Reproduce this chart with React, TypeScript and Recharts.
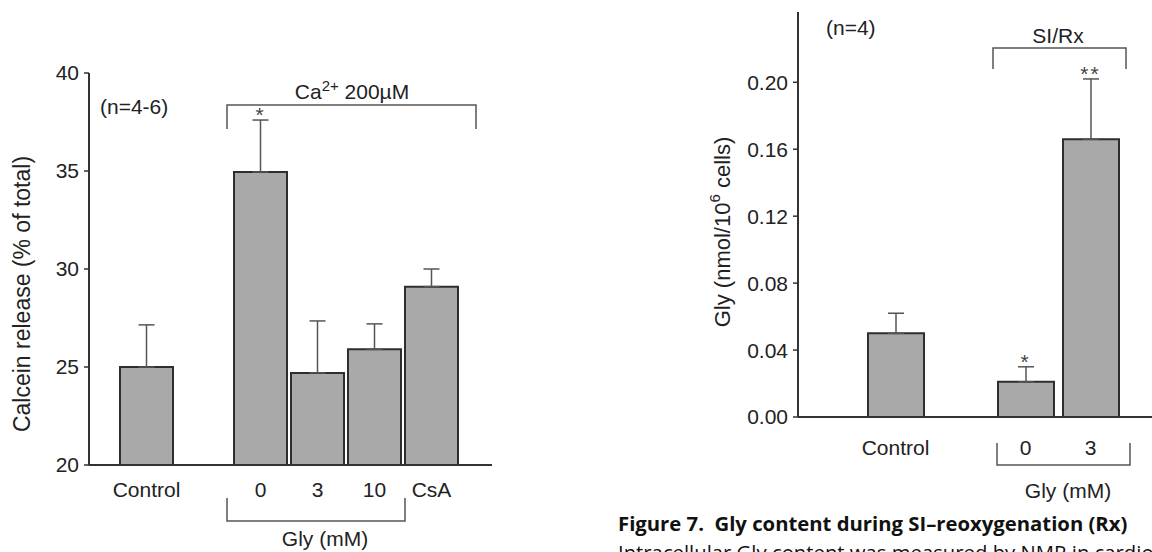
import { ComposedChart, Bar, Line, XAxis, YAxis, ErrorBar, LabelList } from "recharts";

// calcein release panel
const calceinGroups = ["Control", "", "0", "3", "10", "CsA"];
const calceinMeans = [25.0, null, 34.95, 24.7, 25.9, 29.1];
const calceinErrors = [2.15, null, 2.65, 2.65, 1.3, 0.9];
const calceinMarks = ["", "", "*", "", "", ""];
const calceinTicks = [20, 25, 30, 35, 40];

// Gly content panel
const glyGroups = ["Control", "", "0", "3"];
const glyMeans = [0.05, null, 0.021, 0.166];
const glyErrors = [0.012, null, 0.009, 0.036];
const glyMarks = ["", "", "*", "**"];
const glyTicks = [0, 0.04, 0.08, 0.12, 0.16, 0.2];

const font = "'Liberation Sans', Arial, sans-serif";
const ink = "#222";
const barFill = "#a9a9a9";
const barEdge = "#2e2e2e";

function buildRows(groups: string[], means: (number | null)[], errors: (number | null)[], marks: string[]) {
    return groups.map((g, i) => {
        const m = means[i];
        const e = errors[i];
        return {
            group: g,
            mean: m,
            err: m == null || e == null ? undefined : [0, e],
            top: m == null || e == null ? null : m + e,
            mark: marks[i],
        };
    });
}

const calceinData = buildRows(calceinGroups, calceinMeans, calceinErrors, calceinMarks);
const glyData = buildRows(glyGroups, glyMeans, glyErrors, glyMarks);

const Star = (props: any) => {
    const { x, y, value } = props;
    if (!value || y == null || isNaN(y)) return null;
    return (
        <text x={x} y={y + 2} textAnchor="middle" fontSize={21} fill="#444" fontFamily={font} letterSpacing={2}>
            {value}
        </text>
    );
};

export default function App() {
    const tick = { fontSize: 21, fill: ink, fontFamily: font };
    return (
        <div style={{ position: "absolute", left: 0, top: 0, width: 1152, height: 552, overflow: "hidden", background: "#fff" }}>
            <div style={{ position: "absolute", left: 0, top: 0 }}>
                <ComposedChart
                    width={560}
                    height={552}
                    data={calceinData}
                    margin={{ top: 73, right: 68, bottom: 57, left: 29 }}
                >
                    <XAxis
                        dataKey="group"
                        height={30}
                        tickLine={false}
                        tickSize={8}
                        tickMargin={9}
                        interval={0}
                        padding={{ left: 29, right: 32 }}
                        axisLine={{ stroke: "#333", strokeWidth: 2 }}
                        tick={tick}
                    />
                    <YAxis
                        width={60}
                        domain={[20, 40]}
                        ticks={calceinTicks}
                        tickSize={5}
                        tickMargin={5}
                        axisLine={{ stroke: "#333", strokeWidth: 2 }}
                        tickLine={{ stroke: "#333", strokeWidth: 1.5 }}
                        tick={tick}
                    />
                    <Bar dataKey="mean" barSize={53} fill={barFill} stroke={barEdge} strokeWidth={2} isAnimationActive={false}>
                        <ErrorBar dataKey="err" direction="y" width={8} stroke="#555" strokeWidth={1.5} />
                    </Bar>
                    <Line dataKey="top" stroke="none" dot={false} activeDot={false} isAnimationActive={false}>
                        <LabelList dataKey="mark" content={Star} />
                    </Line>
                </ComposedChart>
            </div>
            <div style={{ position: "absolute", left: 560, top: 0 }}>
                <ComposedChart
                    width={592}
                    height={552}
                    data={glyData}
                    margin={{ top: 12, right: 0, bottom: 105, left: 168 }}
                >
                    <XAxis
                        dataKey="group"
                        height={30}
                        tickLine={false}
                        tickSize={8}
                        tickMargin={15}
                        interval={0}
                        padding={{ left: 65, right: 29 }}
                        axisLine={{ stroke: "#333", strokeWidth: 2 }}
                        tick={tick}
                    />
                    <YAxis
                        width={70}
                        domain={[0, 0.242]}
                        ticks={glyTicks}
                        tickFormatter={(v: number) => v.toFixed(2)}
                        tickSize={5}
                        tickMargin={5}
                        axisLine={{ stroke: "#333", strokeWidth: 2 }}
                        tickLine={{ stroke: "#333", strokeWidth: 1.5 }}
                        tick={tick}
                    />
                    <Bar dataKey="mean" barSize={56} fill={barFill} stroke={barEdge} strokeWidth={2} isAnimationActive={false}>
                        <ErrorBar dataKey="err" direction="y" width={8} stroke="#555" strokeWidth={1.5} />
                    </Bar>
                    <Line dataKey="top" stroke="none" dot={false} activeDot={false} isAnimationActive={false}>
                        <LabelList dataKey="mark" content={Star} />
                    </Line>
                </ComposedChart>
            </div>

            {/* annotations: brackets, notes, axis titles */}
            <svg width={1152} height={552} style={{ position: "absolute", left: 0, top: 0, pointerEvents: "none" }}>
                <g fontFamily={font} fill={ink} fontSize={21}>
                    <text x={100} y={114}>(n=4-6)</text>
                    <text x={352} y={99} textAnchor="middle">
                        Ca<tspan dy={-8} fontSize={15}>2+</tspan>
                        <tspan dy={8}> 200µM</tspan>
                    </text>
                    <text x={325} y={546} textAnchor="middle">Gly (mM)</text>
                    <text transform="translate(22,294) rotate(-90)" textAnchor="middle" dominantBaseline="central" fontSize={23}>
                        Calcein release (% of total)
                    </text>

                    <text x={826} y={35}>(n=4)</text>
                    <text x={1058} y={43} textAnchor="middle">SI/Rx</text>
                    <text x={1068} y={498} textAnchor="middle">Gly (mM)</text>
                    <text transform="translate(722,232) rotate(-90)" textAnchor="middle" dominantBaseline="central" fontSize={22}>
                        Gly (nmol/10<tspan dy={-8} fontSize={15}>6</tspan>
                        <tspan dy={8}> cells)</tspan>
                    </text>
                </g>
                <g fill="none" stroke="#555" strokeWidth={1.5}>
                    <path d="M227 129 V105 H476 V129" />
                    <path d="M227 498 V521 H405 V498" />
                    <path d="M993 69 V48 H1126 V69" />
                    <path d="M997 443 V465 H1130 V443" />
                </g>
            </svg>

            <div
                style={{
                    position: "absolute",
                    left: 618,
                    top: 509,
                    fontFamily: "'Open Sans', 'Noto Sans', sans-serif",
                    fontSize: 20.3,
                    lineHeight: "29px",
                    color: "#111",
                    whiteSpace: "nowrap",
                }}
            >
                <div style={{ fontWeight: 700 }}>Figure 7.&nbsp; Gly content during SI–reoxygenation (Rx)</div>
                <div style={{ fontWeight: 400 }}>Intracellular Gly content was measured by NMR in cardiomyocytes</div>
            </div>
        </div>
    );
}
